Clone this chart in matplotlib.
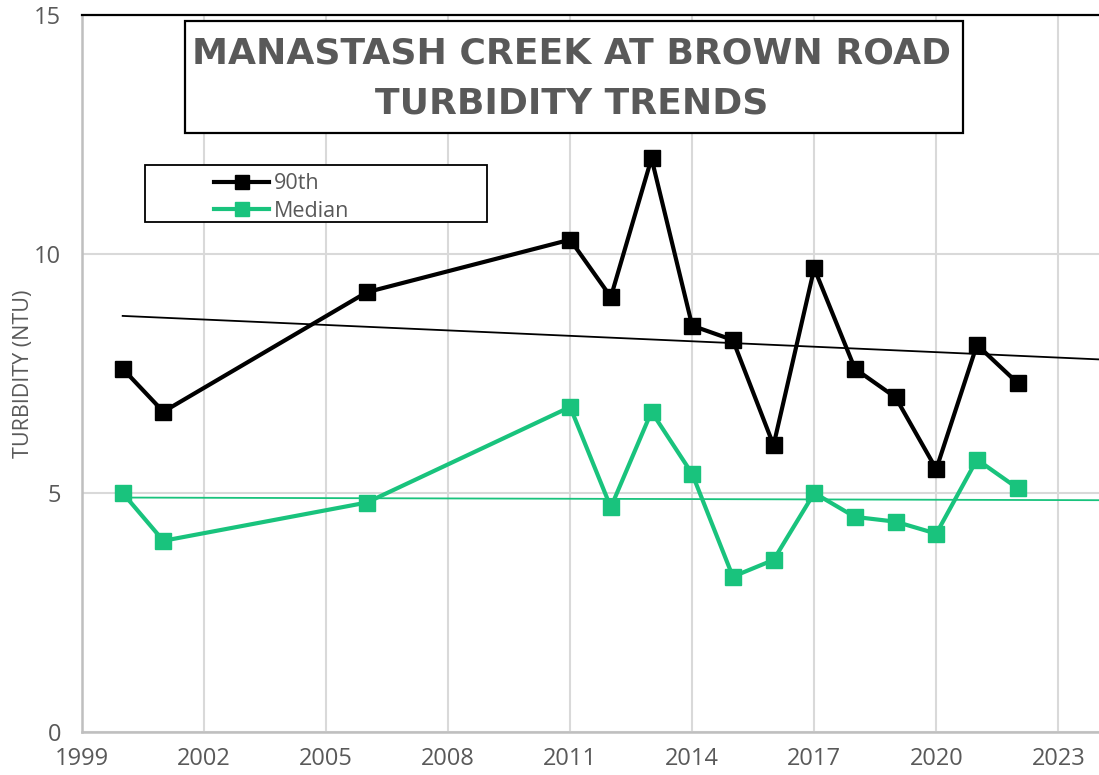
import numpy as np
import matplotlib
matplotlib.use("Agg")
import matplotlib.pyplot as plt
from matplotlib.patches import Rectangle
from matplotlib.lines import Line2D

years = [2000, 2001, 2006, 2011, 2012, 2013, 2014, 2015, 2016, 2017, 2018, 2019, 2020, 2021, 2022]
p90 = [7.6, 6.7, 9.2, 10.3, 9.1, 12.0, 8.5, 8.2, 6.0, 9.7, 7.6, 7.0, 5.5, 8.1, 7.3]
median = [5.0, 4.0, 4.8, 6.8, 4.7, 6.7, 5.4, 3.25, 3.6, 5.0, 4.5, 4.4, 4.15, 5.7, 5.1]
xticks = [1999, 2002, 2005, 2008, 2011, 2014, 2017, 2020, 2023]
yticks = [0, 5, 10, 15]
title_lines = ["MANASTASH CREEK AT BROWN ROAD", "TURBIDITY TRENDS"]
series_names = ["90th", "Median"]

BLACK = "#000000"
GREEN = "#19C37D"
GREY_TXT = "#595959"
GRID = "#D9D9D9"

W, H = 1099, 775
fig = plt.figure(figsize=(W / 100, H / 100), dpi=100)
ax = fig.add_axes([82 / W, 1 - 732 / H, 1 - 82 / W, (732 - 15) / H])

ax.set_xlim(1999, 2024)
ax.set_ylim(0, 15)
ax.set_xticks(xticks)
ax.set_yticks(yticks)
ax.tick_params(length=0, labelsize=17, labelcolor=GREY_TXT)
ax.tick_params(axis="y", pad=15)
ax.tick_params(axis="x", pad=11)
for lab in ax.get_xticklabels() + ax.get_yticklabels():
    lab.set_family("Open Sans")

ax.grid(True, color=GRID, linewidth=1.5)
ax.set_axisbelow(True)
ax.spines["right"].set_visible(False)
ax.spines["left"].set_color("#BFBFBF")
ax.spines["left"].set_linewidth(1.8)
ax.spines["bottom"].set_color("#BFBFBF")
ax.spines["bottom"].set_linewidth(1.8)
ax.spines["top"].set_color(BLACK)
ax.spines["top"].set_linewidth(1.6)

ax.set_ylabel("TURBIDITY (NTU)", fontsize=15.5, color=GREY_TXT, family="Open Sans", labelpad=0)

# trend lines (least squares)
xt = np.array([2000, 2024])
for vals, col in [(p90, BLACK), (median, GREEN)]:
    k, b = np.polyfit(years, vals, 1)
    ax.plot(xt, k * xt + b, color=col, linewidth=1.3, zorder=2, clip_on=True)

ax.plot(years, p90, color=BLACK, linewidth=3, marker="s", markersize=12, zorder=3, clip_on=False)
ax.plot(years, median, color=GREEN, linewidth=3, marker="s", markersize=12, zorder=3, clip_on=False)

# title box
fig.patches.append(Rectangle((185 / W, 1 - 133 / H), (963 - 185) / W, (133 - 21) / H,
                             transform=fig.transFigure, facecolor="white", edgecolor=BLACK,
                             linewidth=1.6, zorder=5))
fig.text(572 / W, 1 - 53 / H, title_lines[0], ha="center", va="center", fontsize=26,
         fontweight="bold", color=GREY_TXT, family="DejaVu Sans", zorder=6)
fig.text(572 / W, 1 - 104 / H, title_lines[1], ha="center", va="center", fontsize=26,
         fontweight="bold", color=GREY_TXT, family="DejaVu Sans", zorder=6)

# legend box
fig.patches.append(Rectangle((145 / W, 1 - 222 / H), (487 - 145) / W, (222 - 165) / H,
                             transform=fig.transFigure, facecolor="white", edgecolor=BLACK,
                             linewidth=1.3, zorder=5))
handles = [Line2D([], [], color=BLACK, linewidth=3, marker="s", markersize=10),
           Line2D([], [], color=GREEN, linewidth=3, marker="s", markersize=10)]
leg = fig.legend(handles, series_names, loc="upper left", bbox_to_anchor=(197 / W, 1 - 156 / H),
                 frameon=False, handlelength=2.55, handletextpad=0.2,
                 labelspacing=0.3, borderpad=0.3, prop={"family": "Open Sans", "size": 15.5})
for t in leg.get_texts():
    t.set_color(GREY_TXT)
leg.set_zorder(7)

fig.savefig("out.png", dpi=100)
